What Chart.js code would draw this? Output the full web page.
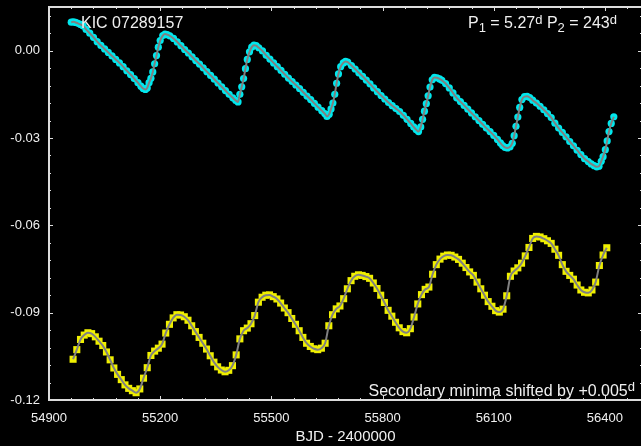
<!DOCTYPE html>
<html>
<head>
<meta charset="utf-8">
<script src="https://cdn.jsdelivr.net/npm/chart.js@4.4.1/dist/chart.umd.min.js"></script>
<style>
  html, body { margin: 0; padding: 0; background: #000; overflow: hidden; }
  #wrap { width: 647px; height: 446px; }
</style>
</head>
<body>
<div id="wrap"><canvas id="chart" width="647" height="446"></canvas></div>
<script>
// primary minima O-C (days)
const primaryBjd = [
  54960, 54966, 54972, 54978, 54985, 54992, 55000, 55010, 55020, 55030, 55040, 55050, 55060,
  55070, 55080, 55090, 55100, 55110, 55120, 55130, 55140, 55148, 55154, 55160, 55165,
  55170, 55175, 55180, 55185, 55190, 55195, 55200, 55207, 55213, 55219,
  55226, 55236, 55246, 55256, 55266, 55276, 55286, 55296, 55306, 55316, 55326, 55336, 55346,
  55356, 55366, 55376, 55386, 55396, 55404,
  55410, 55415, 55420, 55425, 55430, 55435, 55441, 55447, 55453, 55459,
  55466, 55476, 55486, 55496, 55506, 55516, 55526, 55536, 55546, 55556, 55566, 55576, 55586,
  55596, 55606, 55616, 55626, 55636, 55644,
  55650, 55656, 55661, 55666, 55671, 55676, 55681, 55687, 55694, 55700, 55706,
  55716, 55726, 55736, 55746, 55756, 55766, 55776, 55786, 55796, 55806, 55816, 55826, 55836,
  55846, 55856, 55866, 55876, 55884, 55891,
  55897, 55903, 55908, 55913, 55918, 55923, 55928, 55934, 55940, 55947, 55954, 55960,
  55970, 55980, 55990, 56000, 56010, 56020, 56030, 56040, 56050, 56060, 56070, 56080, 56090,
  56100, 56110, 56118, 56124,
  56130, 56137, 56144, 56150, 56155, 56160, 56165, 56170, 56176, 56183, 56190, 56197,
  56205, 56215, 56225, 56235, 56245, 56255, 56265, 56275, 56285, 56295, 56305, 56315, 56325,
  56335, 56345, 56355, 56363, 56371,
  56378, 56384, 56390, 56395, 56401, 56406, 56411, 56417, 56424
];
const primaryOC = [
  0.0098, 0.0099, 0.0097, 0.0094, 0.0090, 0.0085, 0.0073, 0.0060, 0.0046, 0.0031, 0.0018, 0.0006, -0.0006,
  -0.0018, -0.0030, -0.0042, -0.0055, -0.0069, -0.0082, -0.0096, -0.0110, -0.0122, -0.0130, -0.0133, -0.0128,
  -0.0110, -0.0095, -0.0073, -0.0045, -0.0017, 0.0012, 0.0035, 0.0052, 0.0057, 0.0055,
  0.0051, 0.0042, 0.0030, 0.0017, 0.0004, -0.0008, -0.0021, -0.0034, -0.0046, -0.0059, -0.0072, -0.0085, -0.0098,
  -0.0111, -0.0124, -0.0137, -0.0150, -0.0162, -0.0171,
  -0.0176, -0.0150, -0.0124, -0.0096, -0.0062, -0.0030, -0.0004, 0.0012, 0.0019, 0.0017,
  0.0010, -0.0001, -0.0016, -0.0029, -0.0042, -0.0055, -0.0068, -0.0081, -0.0094, -0.0106, -0.0118, -0.0130, -0.0143,
  -0.0156, -0.0168, -0.0181, -0.0194, -0.0206, -0.0216,
  -0.0226, -0.0218, -0.0200, -0.0180, -0.0150, -0.0112, -0.0080, -0.0055, -0.0042, -0.0037, -0.0039,
  -0.0051, -0.0063, -0.0076, -0.0088, -0.0101, -0.0114, -0.0128, -0.0141, -0.0154, -0.0166, -0.0178, -0.0189, -0.0199,
  -0.0209, -0.0222, -0.0236, -0.0250, -0.0262, -0.0272,
  -0.0278, -0.0262, -0.0236, -0.0208, -0.0182, -0.0155, -0.0125, -0.0100, -0.0092, -0.0093, -0.0097, -0.0102,
  -0.0113, -0.0128, -0.0145, -0.0162, -0.0175, -0.0188, -0.0201, -0.0214, -0.0227, -0.0240, -0.0253, -0.0266, -0.0278,
  -0.0291, -0.0305, -0.0317, -0.0326,
  -0.0332, -0.0334, -0.0330, -0.0318, -0.0292, -0.0260, -0.0228, -0.0195, -0.0168, -0.0158, -0.0157, -0.0161,
  -0.0170, -0.0180, -0.0191, -0.0203, -0.0216, -0.0230, -0.0249, -0.0266, -0.0281, -0.0296, -0.0312, -0.0327, -0.0342,
  -0.0357, -0.0371, -0.0381, -0.0389, -0.0395,
  -0.0399, -0.0397, -0.0380, -0.0364, -0.0340, -0.0310, -0.0278, -0.0250, -0.0227
];

// secondary minima O-C (days), shifted by +0.005
const secondaryBjd = [
  54965, 54975, 54985, 54995, 55005, 55015, 55025, 55035, 55045, 55055, 55065, 55075, 55085, 55095, 55105,
  55115, 55125, 55135, 55145, 55155, 55165, 55175, 55185, 55195, 55205, 55215, 55225, 55235, 55245, 55255,
  55265, 55275, 55285, 55295, 55305, 55315, 55325, 55335, 55345, 55355, 55365, 55375, 55385, 55395, 55405,
  55415, 55425, 55435, 55445, 55455, 55465, 55475, 55485, 55495, 55505, 55515, 55525, 55535, 55545, 55555,
  55565, 55575, 55585, 55595, 55605, 55615, 55625, 55635, 55645, 55655, 55665, 55675, 55685, 55695, 55705,
  55715, 55725, 55735, 55745, 55755, 55765, 55775, 55785, 55795, 55805, 55815, 55825, 55835, 55845, 55855,
  55865, 55875, 55885, 55895, 55905, 55915, 55925, 55935, 55945, 55955, 55965, 55975, 55985, 55995, 56005,
  56015, 56025, 56035, 56045, 56055, 56065, 56075, 56085, 56095, 56105, 56115, 56125, 56135, 56145, 56155,
  56165, 56175, 56185, 56195, 56205, 56215, 56225, 56235, 56245, 56255, 56265, 56275, 56285, 56295, 56305,
  56315, 56325, 56335, 56345, 56355, 56365, 56375, 56385, 56395, 56405
];
const secondaryOC = [
  -0.1060, -0.1027, -0.0992, -0.0977, -0.0969, -0.0972, -0.0983, -0.0998, -0.1013, -0.1035, -0.1062, -0.1090, -0.1112, -0.1130, -0.1148,
  -0.1160, -0.1168, -0.1175, -0.1162, -0.1125, -0.1089, -0.1047, -0.1032, -0.1022, -0.1008, -0.0970, -0.0940, -0.0918, -0.0907, -0.0908,
  -0.0914, -0.0926, -0.0945, -0.0965, -0.0985, -0.1005, -0.1025, -0.1048, -0.1070, -0.1086, -0.1097, -0.1103, -0.1098, -0.1082, -0.1045,
  -0.0990, -0.0962, -0.0953, -0.0938, -0.0910, -0.0864, -0.0847, -0.0840, -0.0839, -0.0845, -0.0853, -0.0867, -0.0884, -0.0900, -0.0920,
  -0.0940, -0.0962, -0.0985, -0.1005, -0.1016, -0.1024, -0.1027, -0.1022, -0.1005, -0.0945, -0.0907, -0.0887, -0.0877, -0.0852, -0.0818,
  -0.0790, -0.0775, -0.0770, -0.0772, -0.0776, -0.0782, -0.0798, -0.0817, -0.0840, -0.0865, -0.0892, -0.0912, -0.0933, -0.0952, -0.0965,
  -0.0969, -0.0955, -0.0915, -0.0870, -0.0838, -0.0820, -0.0812, -0.0768, -0.0735, -0.0716, -0.0706, -0.0702, -0.0703, -0.0709, -0.0717,
  -0.0730, -0.0745, -0.0760, -0.0772, -0.0795, -0.0818, -0.0840, -0.0862, -0.0878, -0.0893, -0.0898, -0.0888, -0.0842, -0.0775, -0.0757,
  -0.0746, -0.0730, -0.0705, -0.0676, -0.0645, -0.0638, -0.0640, -0.0646, -0.0653, -0.0662, -0.0682, -0.0703, -0.0735, -0.0758, -0.0772,
  -0.0785, -0.0805, -0.0822, -0.0830, -0.0832, -0.0822, -0.0795, -0.0738, -0.0702, -0.0677
];

const xTickValues = [54900, 55200, 55500, 55800, 56100, 56400];
const xTickLabels = ["54900", "55200", "55500", "55800", "56100", "56400"];
const yTickValues = [-0.12, -0.09, -0.06, -0.03, 0.0];
const yTickLabels = ["-0.12", "-0.09", "-0.06", "-0.03", "0.00"];

const FONT = "'Liberation Sans', Arial, Helvetica, sans-serif";
const TEXT = "#f0f0f0";
const CYAN = "rgb(0,232,238)";
const YELLOW = "rgb(240,240,0)";
const GREY = "#808080";

const toPoints = (xs, ys) => xs.map((x, i) => ({ x: x, y: ys[i] }));

// draws a run of text pieces (with sub/superscripts), right aligned at x if asked
function drawRich(ctx, parts, x, baseline, alignRight) {
  let total = 0;
  parts.forEach(p => {
    ctx.font = p.size + "px " + FONT;
    p.w = ctx.measureText(p.t).width;
    total += p.w;
  });
  let cx = alignRight ? x - total : x;
  parts.forEach(p => {
    ctx.font = p.size + "px " + FONT;
    ctx.fillText(p.t, cx, baseline + (p.dy || 0));
    cx += p.w;
  });
}

const framePlugin = {
  id: "frame",
  beforeDraw(chart) {
    const c = chart.ctx;
    c.save();
    c.fillStyle = "#000";
    c.fillRect(0, 0, chart.width, chart.height);
    c.restore();
  },
  afterDraw(chart) {
    const { ctx, chartArea: a, scales: { x, y } } = chart;
    ctx.save();
    ctx.strokeStyle = "#dcdcdc";
    ctx.lineWidth = 2;
    ctx.strokeRect(a.left, a.top, a.right - a.left, a.bottom - a.top);

    // inward ticks, mirrored on the top
    ctx.lineWidth = 1;
    ctx.beginPath();
    for (let i = 0; i * 60 <= x.max - x.min; i++) {
      const v = x.min + i * 60;
      const px = Math.round(x.getPixelForValue(v)) + 0.5;
      const len = xTickValues.includes(v) ? 4 : 2;
      ctx.moveTo(px, a.bottom); ctx.lineTo(px, a.bottom - len);
      ctx.moveTo(px, a.top); ctx.lineTo(px, a.top + len);
    }
    for (let i = 0; i <= 22; i++) {
      const v = -0.12 + i * 0.006;
      const py = Math.round(y.getPixelForValue(v)) + 0.5;
      const len = i % 5 === 0 ? 4 : 2;
      ctx.moveTo(a.left, py); ctx.lineTo(a.left + len, py);
      ctx.moveTo(a.right, py); ctx.lineTo(a.right - len, py);
    }
    ctx.stroke();

    // labels inside the plot
    ctx.fillStyle = TEXT;
    ctx.textBaseline = "alphabetic";
    ctx.textAlign = "left";
    drawRich(ctx, [{ t: "KIC 07289157", size: 16 }], 81, 28, false);
    drawRich(ctx, [
      { t: "P", size: 16 }, { t: "1", size: 13, dy: 4 },
      { t: " = 5.27", size: 16 }, { t: "d", size: 13, dy: -4 },
      { t: " P", size: 16 }, { t: "2", size: 13, dy: 4 },
      { t: " = 243", size: 16 }, { t: "d", size: 13, dy: -4 }
    ], 617, 28, true);
    drawRich(ctx, [
      { t: "Secondary minima shifted by +0.005", size: 16 }, { t: "d", size: 13, dy: -5 }
    ], 635, 396, true);
    ctx.restore();
  }
};

new Chart(document.getElementById("chart").getContext("2d"), {
  type: "scatter",
  data: {
    datasets: [
      {
        label: "primary fit",
        data: toPoints(primaryBjd, primaryOC),
        showLine: true, borderColor: GREY, borderWidth: 2, pointRadius: 0,
        cubicInterpolationMode: "monotone", order: 0
      },
      {
        label: "secondary fit",
        data: toPoints(secondaryBjd, secondaryOC),
        showLine: true, borderColor: GREY, borderWidth: 2, pointRadius: 0,
        cubicInterpolationMode: "monotone", order: 0
      },
      {
        label: "primary",
        data: toPoints(primaryBjd, primaryOC),
        pointStyle: "circle", pointRadius: 3.6, backgroundColor: CYAN, borderWidth: 0, order: 1
      },
      {
        label: "secondary",
        data: toPoints(secondaryBjd, secondaryOC),
        pointStyle: "rect", pointRadius: 5, backgroundColor: YELLOW, borderWidth: 0, order: 1
      }
    ]
  },
  options: {
    responsive: false,
    animation: false,
    devicePixelRatio: 1,
    layout: { padding: { top: 7, right: 0, bottom: 0, left: 0 } },
    plugins: { legend: { display: false }, tooltip: { enabled: false } },
    scales: {
      x: {
        type: "linear", position: "bottom", min: 54900, max: 56500,
        grid: { display: false, drawTicks: false }, border: { display: false },
        afterBuildTicks: s => { s.ticks = xTickValues.map(v => ({ value: v })); },
        afterFit: s => { s.height = 46; s.paddingLeft = 0; s.paddingRight = 0; },
        ticks: {
          color: TEXT, font: { family: FONT, size: 13 }, padding: 11, maxRotation: 0,
          autoSkip: false, callback: (v, i) => xTickLabels[i]
        },
        title: {
          display: true, text: "BJD - 2400000", color: TEXT,
          font: { family: FONT, size: 15 }, padding: { top: 0, bottom: 0 }
        }
      },
      y: {
        type: "linear", position: "left", min: -0.12, max: 0.015,
        grid: { display: false, drawTicks: false }, border: { display: false },
        afterBuildTicks: s => { s.ticks = yTickValues.map(v => ({ value: v })); },
        afterFit: s => { s.width = 49; s.paddingTop = 0; s.paddingBottom = 0; },
        ticks: {
          color: TEXT, font: { family: FONT, size: 13 }, padding: 9,
          autoSkip: false, callback: (v, i) => yTickLabels[i]
        }
      }
    }
  },
  plugins: [framePlugin]
});
</script>
</body>
</html>
